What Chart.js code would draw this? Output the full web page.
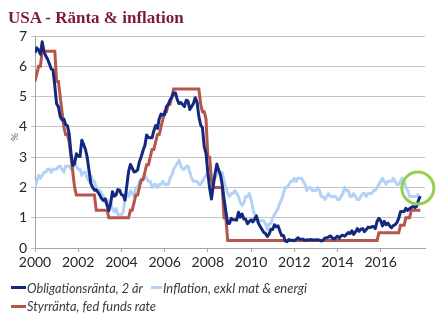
<!DOCTYPE html>
<html>
<head>
<meta charset="utf-8">
<script src="https://cdn.jsdelivr.net/npm/chart.js@4.4.1/dist/chart.umd.min.js"></script>
<style>
  html, body { margin: 0; padding: 0; background: #ffffff; }
  #wrap { position: relative; width: 445px; height: 327px; overflow: hidden; }
  #c { position: absolute; left: 0; top: 0; }
  #title { position: absolute; left: 8px; top: 9px; font: bold 17px "Liberation Serif", serif; line-height: 17px; color: #7f1a35; white-space: nowrap; }
  #ylab { position: absolute; left: 6px; top: 130px; width: 16px; height: 14px; font: 10px "Lato", sans-serif; line-height: 14px; color: #595959; text-align: center; transform: rotate(-90deg); }
  .sw { position: absolute; height: 3px; }
  .lt { position: absolute; font: italic 13.5px "Lato", sans-serif; line-height: 16px; color: #3a3a3a; white-space: nowrap; transform-origin: 0 50%; }
</style>
</head>
<body>
<div id="wrap">
  <canvas id="c" width="445" height="327"></canvas>
  <div id="title">USA - Ränta &amp; inflation</div>
  <div id="ylab">%</div>
  <div class="sw" id="sw0" style="left:11px;top:286px;width:15px;"></div>
  <div class="lt" id="lt0" style="left:27px;top:280px;"></div>
  <div class="sw" id="sw1" style="left:151px;top:286px;width:11px;"></div>
  <div class="lt" id="lt1" style="left:163px;top:280px;"></div>
  <div class="sw" id="sw2" style="left:11px;top:305px;width:15px;"></div>
  <div class="lt" id="lt2" style="left:27px;top:298px;"></div>
</div>
<script>
// ---- Data (monthly, starting Jan 2000) ----
const startYear = 2000;
const seriesNames = ["Obligationsränta, 2 år", "Inflation, exkl mat & energi", "Styrränta, fed funds rate"];
const seriesColors = ["#13297f", "#b4d2f6", "#b5554d"];
const legendWidths = [116, 144, 129]; // target text widths in px
const tickYears = [2000, 2002, 2004, 2006, 2008, 2010, 2012, 2014, 2016];
const yTicks = [0, 1, 2, 3, 4, 5, 6, 7];

// 2-year Treasury yield, monthly Jan 2000 - Nov 2017
const bond2y = [
  6.44, 6.61, 6.53, 6.40, 6.81, 6.48, 6.34, 6.23, 6.08, 5.91, 5.88, 5.35,
  4.76, 4.66, 4.34, 4.23, 4.26, 4.08, 4.04, 3.76, 3.12, 2.73, 2.78, 3.11,
  3.03, 3.02, 3.56, 3.42, 3.26, 2.99, 2.56, 2.13, 2.00, 1.91, 1.92, 1.84,
  1.74, 1.63, 1.57, 1.62, 1.42, 1.23, 1.47, 1.86, 1.71, 1.75, 1.93, 1.91,
  1.76, 1.74, 1.58, 2.07, 2.53, 2.76, 2.64, 2.51, 2.53, 2.58, 2.85, 3.01,
  3.22, 3.38, 3.73, 3.65, 3.64, 3.64, 3.87, 4.04, 3.95, 4.27, 4.42, 4.40,
  4.40, 4.67, 4.73, 4.89, 4.97, 5.12, 5.12, 4.90, 4.77, 4.80, 4.74, 4.67,
  4.88, 4.85, 4.57, 4.67, 4.77, 4.96, 4.82, 4.34, 4.06, 3.97, 3.34, 3.12,
  2.48, 1.97, 1.62, 2.05, 2.45, 2.77, 2.57, 2.42, 2.08, 1.61, 1.21, 0.82,
  0.81, 0.98, 0.93, 0.93, 0.92, 1.18, 1.02, 1.12, 0.96, 0.95, 0.80, 0.87,
  0.93, 0.86, 0.96, 1.06, 0.83, 0.72, 0.62, 0.52, 0.48, 0.38, 0.45, 0.62,
  0.61, 0.77, 0.70, 0.73, 0.56, 0.41, 0.41, 0.23, 0.21, 0.28, 0.25, 0.26,
  0.24, 0.28, 0.34, 0.29, 0.29, 0.29, 0.25, 0.27, 0.26, 0.28, 0.27, 0.26,
  0.27, 0.27, 0.26, 0.23, 0.25, 0.33, 0.34, 0.36, 0.40, 0.34, 0.30, 0.34,
  0.39, 0.33, 0.40, 0.42, 0.39, 0.45, 0.51, 0.47, 0.57, 0.45, 0.53, 0.64,
  0.55, 0.62, 0.64, 0.54, 0.61, 0.69, 0.67, 0.70, 0.71, 0.64, 0.88, 0.98,
  0.90, 0.73, 0.88, 0.77, 0.82, 0.73, 0.67, 0.74, 0.77, 0.84, 0.98, 1.20,
  1.21, 1.20, 1.31, 1.24, 1.30, 1.34, 1.37, 1.34, 1.38, 1.58, 1.71
];

// Core inflation (excl food & energy), y/y %, monthly Jan 2000 - Oct 2017
const coreInfl = [
  2.0, 2.2, 2.4, 2.3, 2.4, 2.5, 2.5, 2.6, 2.6, 2.5, 2.6, 2.6,
  2.6, 2.7, 2.7, 2.6, 2.5, 2.7, 2.7, 2.7, 2.6, 2.6, 2.8, 2.7,
  2.6, 2.6, 2.4, 2.5, 2.5, 2.3, 2.2, 2.4, 2.2, 2.2, 2.0, 1.9,
  1.9, 1.8, 1.7, 1.5, 1.6, 1.5, 1.5, 1.3, 1.2, 1.3, 1.1, 1.1,
  1.1, 1.2, 1.6, 1.8, 1.7, 1.9, 1.8, 1.7, 2.0, 2.0, 2.2, 2.2,
  2.3, 2.4, 2.3, 2.2, 2.2, 2.0, 2.1, 2.1, 2.0, 2.1, 2.1, 2.2,
  2.1, 2.1, 2.1, 2.3, 2.4, 2.6, 2.7, 2.8, 2.9, 2.7, 2.6, 2.6,
  2.7, 2.7, 2.5, 2.3, 2.2, 2.2, 2.2, 2.1, 2.1, 2.2, 2.3, 2.4,
  2.5, 2.3, 2.4, 2.3, 2.3, 2.4, 2.5, 2.5, 2.5, 2.2, 2.0, 1.8,
  1.7, 1.8, 1.8, 1.9, 1.8, 1.7, 1.5, 1.4, 1.5, 1.7, 1.7, 1.8,
  1.6, 1.3, 1.1, 0.9, 0.9, 0.9, 0.9, 0.9, 0.8, 0.6, 0.8, 0.8,
  1.0, 1.1, 1.2, 1.3, 1.5, 1.6, 1.8, 2.0, 2.0, 2.1, 2.2, 2.2,
  2.3, 2.2, 2.3, 2.3, 2.3, 2.2, 2.1, 1.9, 2.0, 2.0, 1.9, 1.9,
  1.9, 2.0, 1.9, 1.7, 1.7, 1.6, 1.7, 1.8, 1.7, 1.7, 1.7, 1.7,
  1.6, 1.6, 1.7, 1.8, 2.0, 1.9, 1.9, 1.7, 1.7, 1.8, 1.7, 1.6,
  1.6, 1.7, 1.8, 1.8, 1.7, 1.8, 1.8, 1.8, 1.9, 1.9, 2.0, 2.1,
  2.2, 2.3, 2.2, 2.1, 2.2, 2.2, 2.2, 2.3, 2.2, 2.1, 2.1, 2.2,
  2.3, 2.2, 2.0, 1.9, 1.7, 1.7, 1.7, 1.7, 1.7, 1.8
];

// Fed funds target rate, monthly Jan 2000 - Nov 2017
const fedFunds = [
  5.50, 5.75, 6.00, 6.00, 6.50, 6.50, 6.50, 6.50, 6.50, 6.50, 6.50, 6.50,
  5.50, 5.50, 5.00, 4.50, 4.00, 3.75, 3.75, 3.50, 3.00, 2.50, 2.00, 1.75,
  1.75, 1.75, 1.75, 1.75, 1.75, 1.75, 1.75, 1.75, 1.75, 1.75, 1.25, 1.25,
  1.25, 1.25, 1.25, 1.25, 1.25, 1.00, 1.00, 1.00, 1.00, 1.00, 1.00, 1.00,
  1.00, 1.00, 1.00, 1.00, 1.00, 1.25, 1.25, 1.50, 1.75, 1.75, 2.00, 2.25,
  2.25, 2.50, 2.75, 2.75, 3.00, 3.25, 3.25, 3.50, 3.75, 3.75, 4.00, 4.25,
  4.50, 4.50, 4.75, 4.75, 5.00, 5.25, 5.25, 5.25, 5.25, 5.25, 5.25, 5.25,
  5.25, 5.25, 5.25, 5.25, 5.25, 5.25, 5.25, 5.25, 4.75, 4.50, 4.50, 4.25,
  3.00, 3.00, 2.25, 2.00, 2.00, 2.00, 2.00, 2.00, 2.00, 1.00, 1.00, 0.25,
  0.25, 0.25, 0.25, 0.25, 0.25, 0.25, 0.25, 0.25, 0.25, 0.25, 0.25, 0.25,
  0.25, 0.25, 0.25, 0.25, 0.25, 0.25, 0.25, 0.25, 0.25, 0.25, 0.25, 0.25,
  0.25, 0.25, 0.25, 0.25, 0.25, 0.25, 0.25, 0.25, 0.25, 0.25, 0.25, 0.25,
  0.25, 0.25, 0.25, 0.25, 0.25, 0.25, 0.25, 0.25, 0.25, 0.25, 0.25, 0.25,
  0.25, 0.25, 0.25, 0.25, 0.25, 0.25, 0.25, 0.25, 0.25, 0.25, 0.25, 0.25,
  0.25, 0.25, 0.25, 0.25, 0.25, 0.25, 0.25, 0.25, 0.25, 0.25, 0.25, 0.25,
  0.25, 0.25, 0.25, 0.25, 0.25, 0.25, 0.25, 0.25, 0.25, 0.25, 0.25, 0.50,
  0.50, 0.50, 0.50, 0.50, 0.50, 0.50, 0.50, 0.50, 0.50, 0.50, 0.50, 0.75,
  0.75, 0.75, 1.00, 1.00, 1.00, 1.25, 1.25, 1.25, 1.25, 1.25, 1.25
];

// Highlight circle (data coordinates)
const highlight = { x: 2017.72, y: 1.98 };

const toPoints = arr => arr.map((v, i) => ({ x: startYear + i / 12, y: v }));

// HTML legend (text squeezed to the reference's narrow font widths)
[0, 1, 2].forEach(i => {
  document.getElementById('sw' + i).style.background = seriesColors[i];
  const el = document.getElementById('lt' + i);
  el.textContent = seriesNames[i];
  const w = el.getBoundingClientRect().width;
  if (w > 0) el.style.transform = 'scaleX(' + (legendWidths[i] / w).toFixed(3) + ')';
});

const circlePlugin = {
  id: 'circle',
  afterDraw(chart) {
    const { ctx, scales } = chart;
    const cx = scales.x.getPixelForValue(highlight.x);
    const cy = scales.y.getPixelForValue(highlight.y);
    ctx.save();
    ctx.beginPath();
    ctx.arc(cx, cy, 16, 0, Math.PI * 2);
    ctx.lineWidth = 3;
    ctx.strokeStyle = '#92d050';
    ctx.stroke();
    ctx.restore();
  }
};

const tickFont = { family: "Lato, sans-serif", size: 14 };

new Chart(document.getElementById('c'), {
  type: 'line',
  data: {
    datasets: [
      { label: seriesNames[0], data: toPoints(bond2y), borderColor: seriesColors[0], borderWidth: 3, pointRadius: 0, tension: 0, borderJoinStyle: 'round' },
      { label: seriesNames[2], data: toPoints(fedFunds), borderColor: seriesColors[2], borderWidth: 3, pointRadius: 0, tension: 0 },
      { label: seriesNames[1], data: toPoints(coreInfl), borderColor: seriesColors[1], borderWidth: 3, pointRadius: 0, tension: 0, borderJoinStyle: 'round' }
    ]
  },
  options: {
    responsive: false,
    animation: false,
    devicePixelRatio: 1,
    layout: { padding: { left: 0, right: 20, top: 36, bottom: 0 } },
    plugins: { legend: { display: false }, tooltip: { enabled: false }, title: { display: false } },
    scales: {
      x: {
        type: 'linear',
        min: 2000,
        max: 2018.05,
        afterBuildTicks: s => { s.ticks = tickYears.map(v => ({ value: v })); },
        afterFit: s => { s.height = 79; },
        ticks: { autoSkip: false, maxRotation: 0, padding: 2, color: '#262626', font: tickFont, callback: v => String(v) },
        grid: { drawOnChartArea: false, drawTicks: true, tickLength: 4, color: '#a6a6a6' },
        border: { color: '#a6a6a6', width: 1 }
      },
      y: {
        min: 0,
        max: 7,
        afterBuildTicks: s => { s.ticks = yTicks.map(v => ({ value: v })); },
        afterFit: s => { s.width = 35; },
        ticks: { padding: 4, color: '#262626', font: tickFont, callback: v => String(v) },
        grid: { color: '#c3c3c3', lineWidth: 1, drawTicks: true, tickLength: 4 },
        border: { color: '#a6a6a6', width: 1 }
      }
    }
  },
  plugins: [circlePlugin]
});
</script>
</body>
</html>
